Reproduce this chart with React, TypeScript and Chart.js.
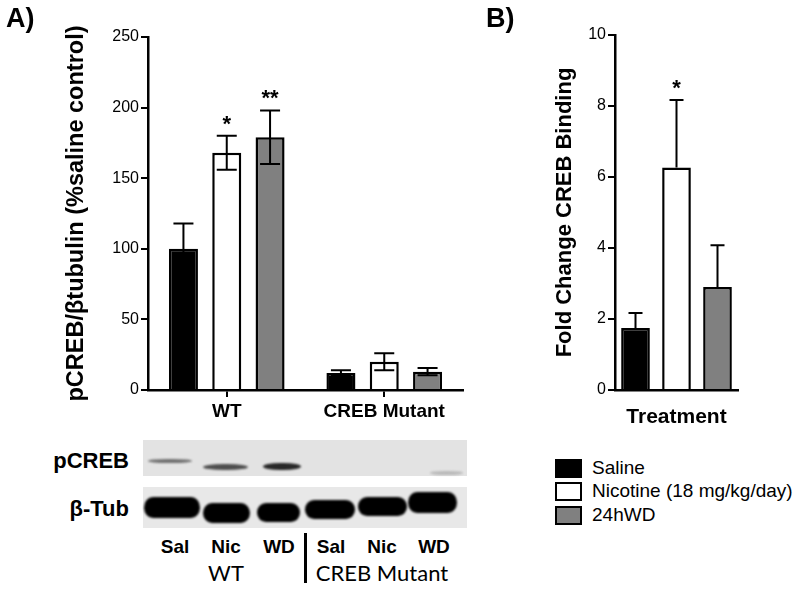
import React, { useEffect, useRef } from "react";
import { Chart, registerables } from "chart.js";

Chart.register(...registerables);

// ---------- data ----------
const groupsA = ["WT", "CREB Mutant"];
const treatments = ["Saline", "Nicotine (18 mg/kg/day)", "24hWD"];
const salineA = [100, 12];
const salineAErr = [18, 2];
const nicotineA = [168, 20];
const nicotineAErr = [12, 6];
const wdA = [179, 13];
const wdAErr = [19, 2.5];
const starsSalineA = ["", ""];
const starsNicotineA = ["*", ""];
const starsWdA = ["**", ""];

const valuesB = [1.75, 6.27, 2.9];
const errB = [0.42, 1.9, 1.18];
const starsB = ["", "*", ""];

const fills = ["#000000", "#ffffff", "#808080"];
const laneLabels = ["Sal", "Nic", "WD", "Sal", "Nic", "WD"];
const blotRows = ["pCREB", "β-Tub"];

const FONT = "'Liberation Sans', Arial, Helvetica, sans-serif";
Chart.defaults.font.family = FONT;

const errorPlugin = {
  id: "errBars",
  afterDatasetsDraw(chart: any) {
    const ctx = chart.ctx;
    const ys = chart.scales.y;
    chart.data.datasets.forEach((ds: any, di: number) => {
      const meta = chart.getDatasetMeta(di);
      meta.data.forEach((bar: any, i: number) => {
        const v = ds.data[i];
        const e = ds.errs[i];
        const x = bar.x;
        const cap = ds.cap;
        const yTop = ys.getPixelForValue(v + e);
        const yBot = ds.both ? ys.getPixelForValue(v - e) : ys.getPixelForValue(v);
        ctx.save();
        ctx.strokeStyle = "#000";
        ctx.lineWidth = 2;
        ctx.beginPath();
        ctx.moveTo(x, yTop);
        ctx.lineTo(x, yBot);
        ctx.moveTo(x - cap / 2, yTop);
        ctx.lineTo(x + cap / 2, yTop);
        if (ds.both) {
          ctx.moveTo(x - cap / 2, yBot);
          ctx.lineTo(x + cap / 2, yBot);
        }
        ctx.stroke();
        const s = ds.stars[i];
        if (s) {
          ctx.fillStyle = "#000";
          ctx.font = "bold 22px " + FONT;
          ctx.textAlign = "center";
          ctx.textBaseline = "alphabetic";
          ctx.fillText(s, x, yTop - 5);
        }
        ctx.restore();
      });
    });
  },
};

const axisGrid = (drawTicks: boolean) => ({
  drawOnChartArea: false,
  drawTicks,
  offset: false,
  color: "#000",
  lineWidth: 2,
  tickLength: 7,
});
const axisBorder = { color: "#000", width: 2.5 };

function ChartA() {
  const ref = useRef<HTMLCanvasElement>(null);
  useEffect(() => {
    const mk = (label: string, data: number[], errs: number[], stars: string[], fill: string) => ({
      label,
      data,
      errs,
      stars,
      both: true,
      cap: 20,
      backgroundColor: fill,
      borderColor: "#000",
      borderWidth: 2.5,
      barPercentage: 0.67,
      categoryPercentage: 0.825,
    });
    const chart = new Chart(ref.current!, {
      type: "bar",
      data: {
        labels: groupsA,
        datasets: [
          mk(treatments[0], salineA, salineAErr, starsSalineA, fills[0]),
          mk(treatments[1], nicotineA, nicotineAErr, starsNicotineA, fills[1]),
          mk(treatments[2], wdA, wdAErr, starsWdA, fills[2]),
        ] as any,
      },
      options: {
        animation: false,
        responsive: false,
        layout: { padding: { top: 37, right: 7, left: 0, bottom: 0 } },
        plugins: { legend: { display: false }, tooltip: { enabled: false } },
        scales: {
          x: {
            grid: axisGrid(true),
            border: axisBorder,
            ticks: { color: "#000", font: { size: 19, weight: "bold" }, padding: 3 },
            afterFit: (s: any) => {
              s.height = 40;
            },
          },
          y: {
            min: 0,
            max: 250,
            grid: axisGrid(true),
            border: axisBorder,
            ticks: { stepSize: 50, color: "#000", font: { size: 16 }, padding: 2 },
            title: {
              display: true,
              text: "pCREB/βtubulin (%saline control)",
              color: "#000",
              font: { size: 23.5, weight: "bold" },
              padding: { top: 62, bottom: 0 },
            },
            afterFit: (s: any) => {
              s.width = 148;
            },
          },
        },
      } as any,
      plugins: [errorPlugin],
    });
    return () => chart.destroy();
  }, []);
  return (
    <canvas
      ref={ref}
      width={470}
      height={430}
      style={{ position: "absolute", left: 0, top: 0, width: 470, height: 430 }}
    />
  );
}

function ChartB() {
  const ref = useRef<HTMLCanvasElement>(null);
  useEffect(() => {
    const chart = new Chart(ref.current!, {
      type: "bar",
      data: {
        labels: treatments,
        datasets: [
          {
            label: "Fold Change CREB Binding",
            data: valuesB,
            errs: errB,
            stars: starsB,
            both: false,
            cap: 14,
            backgroundColor: fills,
            borderColor: "#000",
            borderWidth: 2.5,
            barPercentage: 0.7,
            categoryPercentage: 1.0,
          },
        ] as any,
      },
      options: {
        animation: false,
        responsive: false,
        layout: { padding: { top: 35, right: 62, left: 0, bottom: 0 } },
        plugins: { legend: { display: false }, tooltip: { enabled: false } },
        scales: {
          x: {
            grid: axisGrid(false),
            border: axisBorder,
            ticks: { display: false },
            title: {
              display: true,
              text: "Treatment",
              color: "#000",
              font: { size: 21, weight: "bold" },
              padding: { top: 0, bottom: 0 },
            },
            afterFit: (s: any) => {
              s.height = 40;
            },
          },
          y: {
            min: 0,
            max: 10,
            grid: axisGrid(true),
            border: axisBorder,
            ticks: { stepSize: 2, color: "#000", font: { size: 16 }, padding: 2 },
            title: {
              display: true,
              text: "Fold Change CREB Binding",
              color: "#000",
              font: { size: 22, weight: "bold" },
              padding: { top: 82, bottom: 0 },
            },
            afterFit: (s: any) => {
              s.width = 145;
            },
          },
        },
      } as any,
      plugins: [errorPlugin],
    });
    return () => chart.destroy();
  }, []);
  return (
    <canvas
      ref={ref}
      width={330}
      height={430}
      style={{ position: "absolute", left: 470, top: 0, width: 330, height: 430 }}
    />
  );
}

function Txt(props: {
  x: number;
  y: number;
  text: string;
  size: number;
  bold?: boolean;
  align?: "left" | "right" | "center";
  family?: string;
}) {
  const { x, y, text, size, bold, align = "left", family = FONT } = props;
  const h = size * 1.4;
  const w = 400;
  let left = x;
  if (align === "center") left = x - w / 2;
  if (align === "right") left = x - w;
  return (
    <div
      style={{
        position: "absolute",
        left,
        top: y - h / 2,
        width: w,
        height: h,
        lineHeight: h + "px",
        fontSize: size,
        fontFamily: family,
        fontWeight: bold ? "bold" : "normal",
        textAlign: align,
        color: "#000",
        whiteSpace: "nowrap",
      }}
    >
      {text}
    </div>
  );
}

function Band(props: { l: number; r: number; t: number; b: number; c: string; blur: number; rad: string }) {
  const { l, r, t, b, c, blur, rad } = props;
  return (
    <div
      style={{
        position: "absolute",
        left: l,
        top: t,
        width: r - l,
        height: b - t,
        background: c,
        borderRadius: rad,
        filter: `blur(${blur}px)`,
      }}
    />
  );
}

function Blot() {
  const pBands = [
    { l: 148, r: 192, t: 459, b: 463, c: "rgba(50,50,50,0.65)" },
    { l: 203, r: 248, t: 464, b: 470, c: "rgba(40,40,40,0.8)" },
    { l: 263, r: 301, t: 463, b: 470, c: "rgba(20,20,20,0.9)" },
    { l: 430, r: 463, t: 471, b: 475, c: "rgba(110,110,110,0.35)" },
  ];
  const tBands = [
    { l: 144, r: 200, t: 497, b: 518 },
    { l: 203, r: 250, t: 503, b: 523 },
    { l: 257, r: 300, t: 503, b: 522 },
    { l: 305, r: 355, t: 500, b: 519 },
    { l: 358, r: 407, t: 497, b: 516 },
    { l: 408, r: 457, t: 492, b: 513 },
  ];
  const laneX = [175, 226, 279, 331, 382, 434];
  return (
    <>
      <div style={{ position: "absolute", left: 143, top: 440, width: 324, height: 36, background: "#e3e3e3" }} />
      <div style={{ position: "absolute", left: 143, top: 487, width: 324, height: 41, background: "#e8e8e8" }} />
      {pBands.map((b, i) => (
        <Band key={"p" + i} {...b} blur={1} rad="45% / 50%" />
      ))}
      {tBands.map((b, i) => (
        <Band key={"t" + i} {...b} c="#000" blur={1.1} rad="9px / 50%" />
      ))}
      <Txt x={129} y={461} text={blotRows[0]} size={22} bold align="right" />
      <Txt x={129} y={509} text={blotRows[1]} size={22} bold align="right" />
      {laneLabels.map((s, i) => (
        <Txt key={"l" + i} x={laneX[i]} y={547} text={s} size={19} bold align="center" />
      ))}
      <div style={{ position: "absolute", left: 304, top: 533, width: 2.5, height: 50, background: "#000" }} />
      <Txt x={226} y={573} text={groupsA[0]} size={22} align="center" family="Lato, 'Open Sans', sans-serif" />
      <Txt x={382} y={573} text={groupsA[1]} size={22} align="center" family="Lato, 'Open Sans', sans-serif" />
    </>
  );
}

function Legend() {
  const ys = [468, 491, 515];
  return (
    <>
      {treatments.map((t, i) => (
        <React.Fragment key={t}>
          <div
            style={{
              position: "absolute",
              left: 555,
              top: ys[i] - 9.5,
              width: 27,
              height: 19,
              boxSizing: "border-box",
              border: "2.5px solid #000",
              background: fills[i],
            }}
          />
          <Txt x={592} y={ys[i]} text={t} size={19} />
        </React.Fragment>
      ))}
    </>
  );
}

export default function App() {
  return (
    <div
      style={{
        position: "fixed",
        left: 0,
        top: 0,
        width: 800,
        height: 589,
        background: "#fff",
        overflow: "hidden",
      }}
    >
      <ChartA />
      <ChartB />
      <Txt x={6} y={19} text="A)" size={27} bold />
      <Txt x={486} y={19} text="B)" size={27} bold />
      <Blot />
      <Legend />
    </div>
  );
}
